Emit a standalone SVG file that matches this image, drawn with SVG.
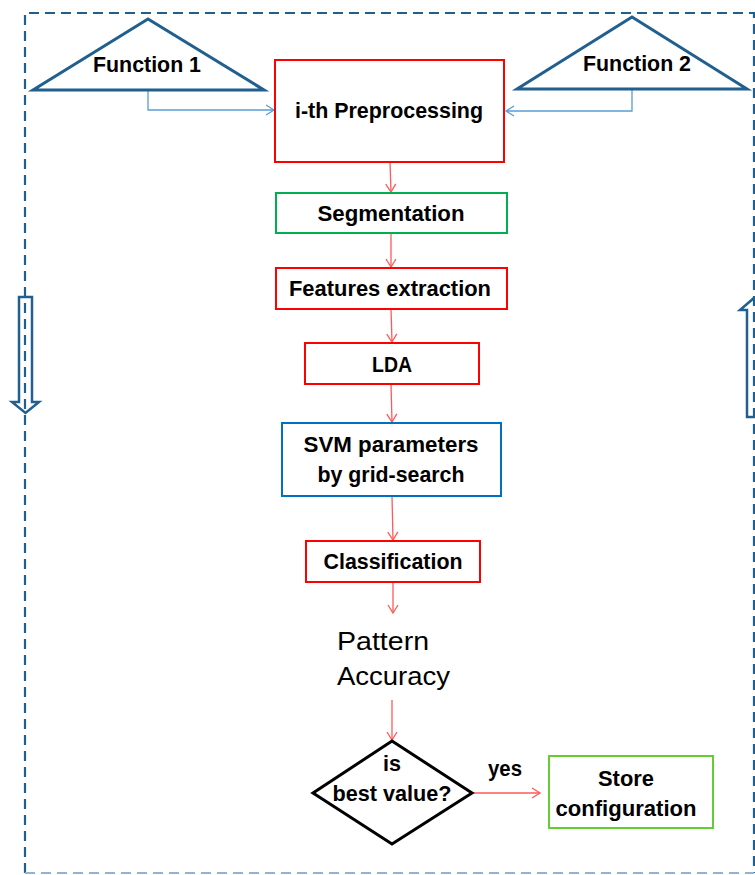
<svg xmlns="http://www.w3.org/2000/svg" width="755" height="875" viewBox="0 0 755 875">
<defs>
<style>
.lbl{font-family:"Liberation Sans",Arial,sans-serif;font-weight:bold;font-size:22px;fill:#000;text-anchor:middle}
.big{font-family:"Liberation Sans",Arial,sans-serif;font-size:26px;fill:#000}
.tri{fill:#fff;stroke:#215f8e;stroke-width:3;stroke-linejoin:miter}
.red{fill:#fff;stroke:#ff0000;stroke-width:2}
.green{fill:#fff;stroke:#00b050;stroke-width:2}
.lgreen{fill:#fff;stroke:#66cc33;stroke-width:2}
.blue{fill:#fff;stroke:#0070c0;stroke-width:2}
.rc{fill:none;stroke:#ff5a5a;stroke-width:1.3}
.bc{fill:none;stroke:#5b9bd5;stroke-width:1.3}
.border{fill:none;stroke:#215f8e;stroke-width:2.2;stroke-dasharray:10 6}
.hollow{fill:#fff;stroke:#215f8e;stroke-width:2.5}
</style>
<marker id="ar" markerWidth="12" markerHeight="12" refX="10" refY="6" orient="auto" markerUnits="userSpaceOnUse">
<path d="M2,1 L10,6 L2,11" fill="none" stroke="#ff5a5a" stroke-width="1.3"/>
</marker>
<marker id="ab" markerWidth="12" markerHeight="12" refX="10" refY="6" orient="auto" markerUnits="userSpaceOnUse">
<path d="M2,1 L10,6 L2,11" fill="none" stroke="#5b9bd5" stroke-width="1.3"/>
</marker>
</defs>
<rect width="755" height="875" fill="#fff"/>

<g id="loop-arrows">
<polygon class="hollow" points="19,297 32,297 32,402 39,402 25.5,413 12,402 19,402"/>
<polygon class="hollow" points="747,417 761,417 761,310 768,310 754,298 740,310 747,310"/>
</g>

<g id="frame">
<path class="border" d="M25,873 L25,13 L754,13 L754,873"/>
<path d="M25,873 L754,873" fill="none" stroke="#8fb4d6" stroke-width="2" stroke-dasharray="10 6"/>
</g>

<g id="connectors">
<path class="bc" d="M148,90 L148,110 L274,110" marker-end="url(#ab)"/>
<path class="bc" d="M632,89 L632,111 L506,111" marker-end="url(#ab)"/>
<path class="rc" d="M390,162 L391,192" marker-end="url(#ar)"/>
<path class="rc" d="M391,233 L391,267" marker-end="url(#ar)"/>
<path class="rc" d="M391,309 L392,342" marker-end="url(#ar)"/>
<path class="rc" d="M391,384 L392,422" marker-end="url(#ar)"/>
<path class="rc" d="M392,496 L393,540" marker-end="url(#ar)"/>
<path class="rc" d="M393,582 L393,613" marker-end="url(#ar)"/>
<path class="rc" d="M392,700 L392,740" marker-end="url(#ar)"/>
<path class="rc" d="M472,793 L540,793" marker-end="url(#ar)"/>
<text class="lbl" x="505" y="776" textLength="34" lengthAdjust="spacingAndGlyphs">yes</text>
</g>

<g id="function1">
<polygon class="tri" points="148,19 33,90 264,90"/>
<text class="lbl" x="147" y="72" textLength="108" lengthAdjust="spacingAndGlyphs">Function 1</text>
</g>

<g id="function2">
<polygon class="tri" points="632,17 517,89 747,89"/>
<text class="lbl" x="637" y="71" textLength="108" lengthAdjust="spacingAndGlyphs">Function 2</text>
</g>

<g id="preprocessing">
<rect class="red" x="275" y="60" width="229" height="102"/>
<text class="lbl" x="389" y="118" textLength="188" lengthAdjust="spacingAndGlyphs">i-th Preprocessing</text>
</g>

<g id="segmentation">
<rect class="green" x="276" y="193" width="231" height="40"/>
<text class="lbl" x="391" y="221" textLength="147" lengthAdjust="spacingAndGlyphs">Segmentation</text>
</g>

<g id="features">
<rect class="red" x="276" y="268" width="231" height="41"/>
<text class="lbl" x="390" y="296" textLength="202" lengthAdjust="spacingAndGlyphs">Features extraction</text>
</g>

<g id="lda">
<rect class="red" x="305" y="343" width="174" height="41"/>
<text class="lbl" x="392" y="372" textLength="40" lengthAdjust="spacingAndGlyphs">LDA</text>
</g>

<g id="svm">
<rect class="blue" x="282" y="423" width="219" height="73"/>
<text class="lbl" x="391" y="452" textLength="175" lengthAdjust="spacingAndGlyphs">SVM parameters</text>
<text class="lbl" x="391" y="482" textLength="147" lengthAdjust="spacingAndGlyphs">by grid-search</text>
</g>

<g id="classification">
<rect class="red" x="306" y="541" width="174" height="41"/>
<text class="lbl" x="393" y="569" textLength="139" lengthAdjust="spacingAndGlyphs">Classification</text>
</g>

<g id="pattern-accuracy">
<text class="big" x="337" y="650" textLength="92" lengthAdjust="spacingAndGlyphs">Pattern</text>
<text class="big" x="337" y="685" textLength="113" lengthAdjust="spacingAndGlyphs">Accuracy</text>
</g>

<g id="decision">
<polygon points="392,741 472,793 392,844 313,793" fill="#fff" stroke="#000" stroke-width="3"/>
<text class="lbl" x="392" y="771" textLength="18" lengthAdjust="spacingAndGlyphs">is</text>
<text class="lbl" x="392" y="801" textLength="119" lengthAdjust="spacingAndGlyphs">best value?</text>
</g>

<g id="store">
<rect class="lgreen" x="549" y="756" width="164" height="72"/>
<text class="lbl" x="626" y="786" textLength="56" lengthAdjust="spacingAndGlyphs">Store</text>
<text class="lbl" x="626" y="816" textLength="141" lengthAdjust="spacingAndGlyphs">configuration</text>
</g>
</svg>
